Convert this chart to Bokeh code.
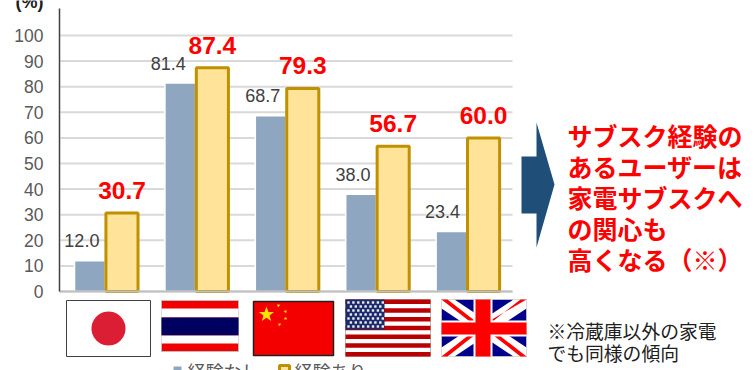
import numpy as np
from bokeh.core.properties import value
from bokeh.embed import file_html
from bokeh.models import BoxAnnotation, ColumnDataSource, Label, PolyAnnotation, Range1d
from bokeh.plotting import figure
from bokeh.resources import INLINE
from bokeh.transform import dodge

countries = ["日本", "タイ", "中国", "米国", "英国"]
no_experience = [12.0, 81.4, 68.7, 38.0, 23.4]
with_experience = [30.7, 87.4, 79.3, 56.7, 60.0]
y_ticks = list(range(0, 101, 10))
legend_names = ["経験なし", "経験あり"]
message_lines = ["サブスク経験の", "あるユーザーは", "家電サブスクへ", "の関心も", "高くなる（※）"]
note_lines = ["※冷蔵庫以外の家電", "でも同様の傾向"]

LATIN = "Liberation Sans"
CJK = "Noto Sans CJK JP"
BLUE = "#8FA6C0"
YELLOW = "#FFE398"
GOLD = "#BF9000"
RED = "#FF0000"

# The frame fills the canvas; scales are set so one category spans 90.4 px
# and one percentage point spans 2.56 px, with the origin at (60, 291).
W, H = 756, 370
CAT, UNIT = 90.4, 2.56
ORIGIN_X, ORIGIN_Y = 60, 291
p = figure(width=W, height=H, output_backend="svg", toolbar_location=None,
           x_range=Range1d(-ORIGIN_X / CAT, (W - ORIGIN_X) / CAT),
           y_range=Range1d((ORIGIN_Y - H) / UNIT, ORIGIN_Y / UNIT),
           min_border=0, outline_line_color=None, background_fill_color="white")

p.grid.visible = False
top_value = (ORIGIN_Y - 8) / UNIT
n = len(countries)

p.segment(x0=[0.0] * len(y_ticks), x1=[float(n)] * len(y_ticks), y0=y_ticks, y1=y_ticks,
          line_color="#D9D9D9", line_width=2)

p.yaxis.fixed_location = -1 / CAT
p.yaxis.bounds = (0, top_value)
p.yaxis.ticker = y_ticks
p.yaxis.major_tick_line_color = None
p.yaxis.minor_tick_line_color = None
p.yaxis.axis_line_color = "#404040"
p.yaxis.axis_line_width = 1.5
p.yaxis.major_label_standoff = 10
p.yaxis.major_label_text_font = LATIN
p.yaxis.major_label_text_font_size = "17.5px"
p.yaxis.major_label_text_color = "#595959"
p.xaxis.fixed_location = 0
p.xaxis.bounds = (-1 / CAT, float(n))
p.xaxis.ticker = []
p.xaxis.major_tick_line_color = None
p.xaxis.minor_tick_line_color = None
p.xaxis.axis_line_color = "#BFBFBF"
p.xaxis.axis_line_width = 2

source = ColumnDataSource(dict(
    place=np.arange(n) + 0.5,
    none=no_experience,
    some=with_experience,
    none_text=[f"{v:.1f}" for v in no_experience],
    some_text=[f"{v:.1f}" for v in with_experience],
    none_shift=[-8, -12, -8, -8, -9],
))

p.vbar(x=dodge("place", -0.175), top="none", width=0.34, bottom=0, source=source,
       fill_color=BLUE, line_color="white", line_width=1.5)
p.vbar(x=dodge("place", 0.18), top="some", width=0.355, bottom=0, source=source,
       fill_color=YELLOW, line_color=GOLD, line_width=3)

p.text(x=dodge("place", -0.175), y="none", text="none_text", source=source,
       x_offset="none_shift", y_offset=-20, text_align="center", text_baseline="alphabetic",
       text_font=value(LATIN), text_font_size="18px", text_color="#404040")
p.text(x=dodge("place", 0.18), y="some", text="some_text", source=source,
       y_offset=-22.5, text_align="center", text_baseline="alphabetic",
       text_font=value(LATIN), text_font_size="24.5px", text_font_style="bold", text_color=RED)


def rect(x0, y0, x1, y1, fill, line=None, width=1):
    p.add_layout(BoxAnnotation(left=x0, right=x1, top=y0, bottom=y1,
                               left_units="canvas", right_units="canvas",
                               top_units="canvas", bottom_units="canvas",
                               fill_color=fill, fill_alpha=1,
                               line_color=line, line_width=width, line_alpha=1 if line else 0))


def poly(xs, ys, fill):
    p.add_layout(PolyAnnotation(xs=list(map(float, xs)), ys=list(map(float, ys)),
                                xs_units="canvas", ys_units="canvas",
                                fill_color=fill, fill_alpha=1, line_color=None, line_alpha=0))


def text(x, y, s, font, size, color, style="normal"):
    p.add_layout(Label(x=x, y=y, x_units="canvas", y_units="canvas", text=s,
                       text_font=font, text_font_size=size, text_color=color,
                       text_font_style=style, text_baseline="alphabetic"))


def star(cx, cy, r, fill, turn=0.0):
    angles = -np.pi / 2 + turn + np.arange(10) * np.pi / 5
    radii = np.where(np.arange(10) % 2 == 0, r, r * 0.4)
    poly(cx + radii * np.cos(angles), cy + radii * np.sin(angles), fill)


# Japan
rect(66, 300, 150, 356, "white", "#404040", 1)
theta = np.linspace(0, 2 * np.pi, 48, endpoint=False)
poly(108 + 17 * np.cos(theta), 328 + 17 * np.sin(theta), "#DC1E35")

# Thailand
rect(161, 300, 238, 351, "#F00000", "#BBBBBB", 1)
rect(161, 308, 238, 317, "white")
rect(161, 317, 238, 335, "#000060")
rect(161, 335, 238, 343, "white")

# China
rect(253, 301, 333, 355, "#F40000", "#202020", 1.5)
star(266, 314, 8, "#FFE000")
star(278, 305, 2, "#FFE000", 0.5)
star(285, 311, 2, "#FFE000", 0.9)
star(285, 318, 2, "#FFE000", 0.0)
star(279, 324, 2, "#FFE000", 0.5)

# United States
rect(345, 299, 430, 356, "white", "#BBBBBB", 1)
stripe = 57 / 13
for i in range(0, 13, 2):
    rect(345, 299 + i * stripe, 430, 299 + (i + 1) * stripe, "#B80000")
rect(345, 299, 384, 329, "#1A2A6C")
for row in range(7):
    for col in range(8):
        cx = 348 + col * 4.9 + (2.4 if row % 2 else 0)
        cy = 302 + row * 4
        if cx < 383:
            rect(cx - 1.2, cy - 1.2, cx + 1.2, cy + 1.2, "#F0F0F0")

# United Kingdom
x0, x1, y0, y1 = 441, 526, 299, 356
rect(x0, y0, x1, y1, "#00008B", "#BBBBBB", 1)
dx, dy = 13, 9
poly([x0, x0 + dx, x1, x1, x1 - dx, x0], [y0, y0, y1 - dy, y1, y1, y0 + dy], "white")
poly([x1, x1 - dx, x0, x0, x0 + dx, x1], [y0, y0, y1 - dy, y1, y1, y0 + dy], "white")
rx = 3
poly([x0, x0 + rx * 2, x0 + 42, x0 + 36], [y0, y0, y0 + 28, y0 + 28], RED)
poly([x1, x1 - rx * 2, x0 + 43, x0 + 49], [y1, y1, y0 + 29, y0 + 29], RED)
poly([x1, x1 - rx * 2, x0 + 46, x0 + 40], [y0, y0, y0 + 26, y0 + 26], RED)
poly([x0, x0 + rx * 2, x0 + 39, x0 + 33], [y1, y1, y0 + 31, y0 + 31], RED)
rect(473, y0, 492, y1, "white")
rect(x0, 320, x1, 336, "white")
rect(475, y0, 490, y1, RED)
rect(x0, 322, x1, 334, RED)

# Arrow pointing at the takeaway
poly([521, 536, 536, 554, 536, 536, 521], [156, 156, 122, 184, 247, 213, 213], "#1F4E79")

# Unit label, clipped by the top of the canvas
text(15, 1, "(%)", LATIN, "18px", "#202020", "bold")

# Legend, clipped by the bottom of the canvas
rect(173, 366, 181, 375, BLUE)
text(187, 370, legend_names[0], CJK, "18px", "#595959")
rect(279, 365, 289, 375, YELLOW, GOLD, 3)
text(294, 370, legend_names[1], CJK, "18px", "#595959")

# Takeaway
for i, line in enumerate(message_lines):
    text(567, 134 + i * 31, line, CJK, "25px", RED, "bold")

# Footnote
for i, line in enumerate(note_lines):
    text(547, 330 + i * 22, line, CJK, "18.8px", "#202020")

open("out.html", "w").write(file_html(p, INLINE))
